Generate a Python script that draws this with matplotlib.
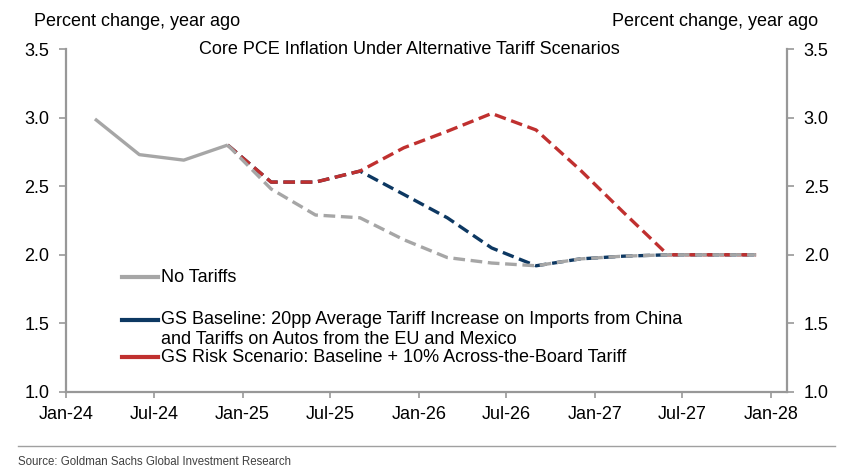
import pandas as pd
import matplotlib.pyplot as plt
from matplotlib.lines import Line2D
import numpy as np

plt.rcParams['font.family'] = ['Liberation Sans', 'DejaVu Sans']

# history (solid grey)
hist_dates = pd.to_datetime(['2024-03-01', '2024-06-01', '2024-09-01', '2024-12-01'])
hist_vals = [2.99, 2.73, 2.69, 2.80]

# forecast dates, Dec-24 .. Dec-27 (quarterly)
fc_dates = pd.date_range('2024-12-01', '2027-12-01', freq='3MS')
no_tariffs = [2.80, 2.48, 2.29, 2.27, 2.11, 1.98, 1.94, 1.92, 1.97, 1.99, 2.00, 2.00, 2.00]
baseline   = [2.80, 2.53, 2.53, 2.61, 2.44, 2.27, 2.05, 1.92, 1.97, 1.99, 2.00, 2.00, 2.00]
risk       = [2.80, 2.53, 2.53, 2.61, 2.78, 2.90, 3.03, 2.91, 2.62, 2.31, 2.00, 2.00, 2.00]

tick_dates = pd.date_range('2024-01-01', '2028-01-01', freq='6MS')
tick_labels = [d.strftime('%b-%y') for d in tick_dates]
yticks = [1.0, 1.5, 2.0, 2.5, 3.0, 3.5]

grey = '#A6A6A6'
navy = '#0D3862'
red = '#C0302F'
spine_col = '#989898'
lw = 2.4
dash = (3.5, 1.7)
fs = 13

fig = plt.figure(figsize=(8.42, 4.74), dpi=100)
ax = fig.add_axes([66/842, 1 - 392/474, 721/842, 343/474])

ax.plot(fc_dates, baseline, color=navy, lw=lw, dashes=dash)
ax.plot(fc_dates, risk, color=red, lw=lw, dashes=dash)
ax.plot(fc_dates, no_tariffs, color=grey, lw=lw, dashes=dash)
ax.plot(hist_dates, hist_vals, color=grey, lw=lw, solid_capstyle='butt')

ax.set_xlim(pd.Timestamp('2024-01-01'), pd.Timestamp('2028-02-03'))
ax.set_ylim(1.0, 3.5)
ax.set_xticks(tick_dates)
ax.set_xticklabels(tick_labels)
ax.set_yticks(yticks)
ax.set_yticklabels([f'{v:.1f}' for v in yticks])

ax2 = ax.twinx()
ax2.set_ylim(1.0, 3.5)
ax2.set_yticks(yticks)
ax2.set_yticklabels([f'{v:.1f}' for v in yticks])

for a in (ax, ax2):
    for s in a.spines.values():
        s.set_color(spine_col)
        s.set_linewidth(1.6)
    a.spines['top'].set_visible(False)
    a.tick_params(colors=spine_col, labelcolor='black', labelsize=fs, width=1.2, length=5, pad=7)
ax.spines['right'].set_visible(False)
ax2.spines['left'].set_visible(False)
ax2.spines['bottom'].set_visible(False)
ax.tick_params(axis='x', length=4, pad=6)

# legend, drawn by hand so the handle sits on the first line of the wrapped label
def ax_xy(px, py):
    return (px - 66) / 721, (392 - py) / 343

entries = [
    (grey, 277, 'No Tariffs'),
    (navy, 320, 'GS Baseline: 20pp Average Tariff Increase on Imports from China'),
    (None, 339, 'and Tariffs on Autos from the EU and Mexico'),
    (red, 357, 'GS Risk Scenario: Baseline + 10% Across-the-Board Tariff'),
]
for col, py, txt in entries:
    if col is not None:
        x0, y0 = ax_xy(122, py)
        x1, _ = ax_xy(158, py)
        ax.add_line(Line2D([x0, x1], [y0, y0], color=col, lw=3.0, transform=ax.transAxes))
    tx, ty = ax_xy(161, py)
    ax.text(tx, ty, txt, transform=ax.transAxes, fontsize=fs, va='center', ha='left')

fig.text(34/842, 1 - 21/474, 'Percent change, year ago', fontsize=fs, va='center', ha='left')
fig.text(818/842, 1 - 21/474, 'Percent change, year ago', fontsize=fs, va='center', ha='right')
fig.text(409/842, 1 - 50/474, 'Core PCE Inflation Under Alternative Tariff Scenarios',
         fontsize=13, va='center', ha='center')

fig.add_artist(Line2D([18/842, 835/842], [1 - 446/474, 1 - 446/474], color='#A0A0A0', lw=1.0))
fig.text(18/842, 1 - 462/474, 'Source: Goldman Sachs Global Investment Research',
         fontsize=8.3, color='#404040', va='center', ha='left')

fig.savefig('out.png', dpi=100)
